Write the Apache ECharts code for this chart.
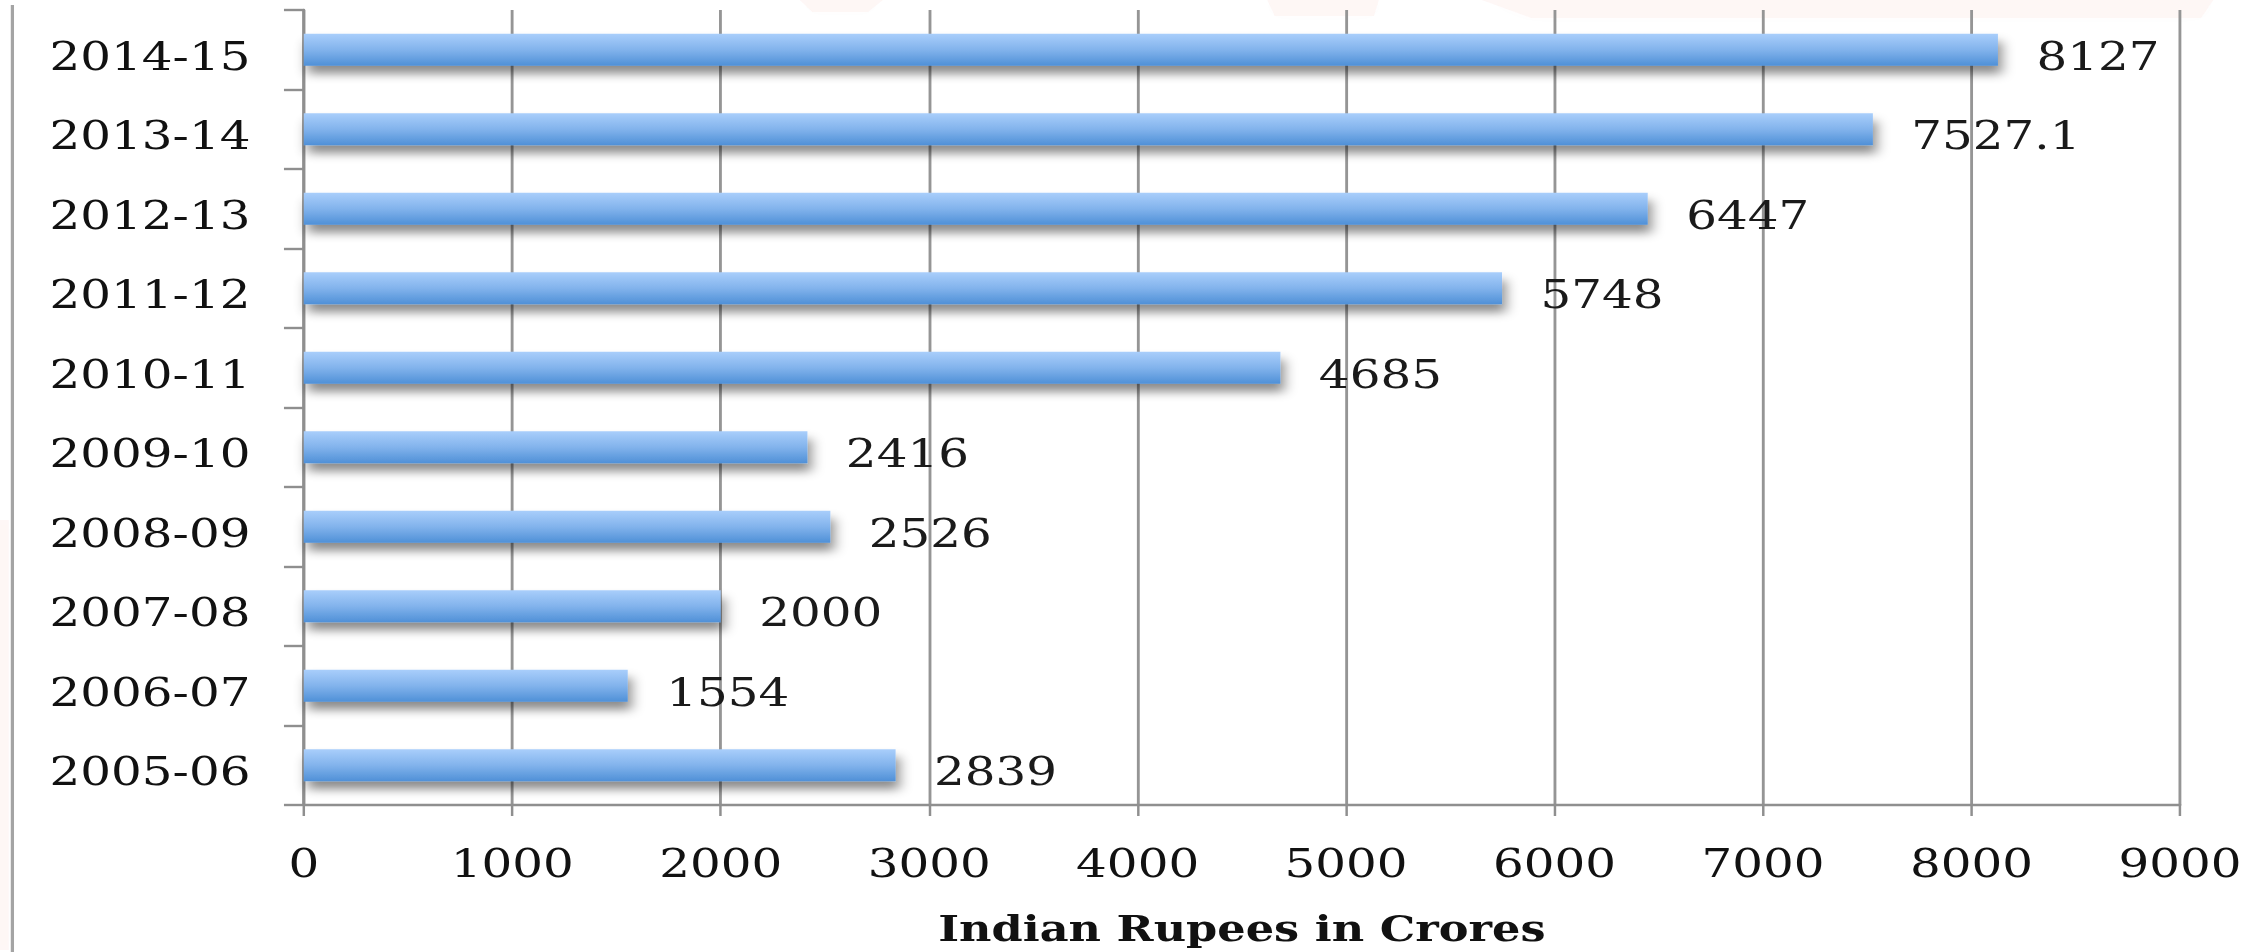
<!DOCTYPE html>
<html>
<head>
<meta charset="utf-8">
<title>Indian Rupees in Crores</title>
<script src="https://cdn.jsdelivr.net/npm/echarts@6/dist/echarts.min.js"></script>
<style>
  html, body { margin: 0; padding: 0; background: #ffffff; overflow: hidden; }
  #wrap { width: 2264px; height: 952px; overflow: hidden; position: relative; }
  /* the chart is drawn narrower and widened horizontally, giving the broad lettering */
  #chart { width: 1826px; height: 952px; transform: scaleX(1.24); transform-origin: 0 0; }
</style>
</head>
<body>
<div id="wrap"><div id="chart"></div></div>
<script>
// Financial years, bottom to top as drawn on the category axis
const years = ['2005-06', '2006-07', '2007-08', '2008-09', '2009-10',
               '2010-11', '2011-12', '2012-13', '2013-14', '2014-15'];
// Amount for each year (Indian Rupees in Crores)
const amounts = [2839, 1554, 2000, 2526, 2416, 4685, 5748, 6447, 7527.1, 8127];
// Value axis ticks
const valueTicks = [0, 1000, 2000, 3000, 4000, 5000, 6000, 7000, 8000, 9000];
const axisTitle = 'Indian Rupees in Crores';

const serif = '"DejaVu Serif", "Liberation Serif", serif';
const lineGray = '#959595';
const tint = 'rgba(235, 120, 95, 0.06)';
const tintStyle = { fill: tint, shadowColor: 'rgba(235, 120, 95, 0.10)', shadowBlur: 14 };

const chart = echarts.init(document.getElementById('chart'), null, { renderer: 'svg' });

chart.setOption({
  backgroundColor: '#ffffff',
  animation: false,
  grid: { left: 245, right: 68, top: 10, bottom: 142, containLabel: false },
  xAxis: {
    type: 'value',
    min: valueTicks[0],
    max: valueTicks[valueTicks.length - 1],
    interval: valueTicks[1] - valueTicks[0],
    name: axisTitle,
    nameLocation: 'middle',
    nameGap: 106,
    nameTextStyle: { fontFamily: serif, fontWeight: 'bold', fontSize: 36, color: '#111111' },
    axisLine: { show: true, lineStyle: { color: '#8f8f8f', width: 2.4 } },
    axisTick: { show: true, length: 11, lineStyle: { color: '#8f8f8f', width: 2 } },
    splitLine: { show: true, lineStyle: { color: lineGray, width: 2.3 } },
    axisLabel: {
      margin: 39, fontFamily: serif, fontSize: 39, color: '#111111',
      formatter: v => String(v)
    }
  },
  yAxis: {
    type: 'category',
    data: years,
    axisLine: { show: true, lineStyle: { color: '#8f8f8f', width: 2.4 } },
    axisTick: { show: true, length: 16, lineStyle: { color: '#8f8f8f', width: 2.4 } },
    splitLine: { show: false },
    axisLabel: {
      margin: 43,
      formatter: v => '{y|' + v + '}',
      rich: { y: { fontFamily: serif, fontSize: 39, color: '#111111', padding: [12, 0, 0, 0] } }
    }
  },
  series: [{
    type: 'bar',
    data: amounts,
    barWidth: 32,
    itemStyle: {
      color: new echarts.graphic.LinearGradient(0, 0, 0, 1, [
        { offset: 0, color: '#a9cefb' },
        { offset: 0.5, color: '#82b3ec' },
        { offset: 1, color: '#4f90d7' }
      ]),
      shadowColor: 'rgba(0, 0, 0, 0.45)',
      shadowBlur: 10,
      shadowOffsetX: 3,
      shadowOffsetY: 8
    },
    label: {
      show: true,
      position: 'right',
      distance: 31,
      offset: [0, 6],
      fontFamily: serif,
      fontSize: 39,
      color: '#1a1a1a',
      formatter: p => String(p.value)
    }
  }],
  graphic: [
    // page border at the far left
    { type: 'line', shape: { x1: 10, y1: 5, x2: 10, y2: 952 }, style: { stroke: '#a4a4a4', lineWidth: 2.6 } },
    // faint backdrop tint along the top and left edges
    { type: 'polygon', silent: true, z: -1, shape: { points: [[645, 0], [712, 0], [700, 12], [655, 12]] }, style: tintStyle },
    { type: 'polygon', silent: true, z: -1, shape: { points: [[1022, 0], [1112, 0], [1108, 16], [1028, 16]] }, style: tintStyle },
    { type: 'polygon', silent: true, z: -1, shape: { points: [[1195, 0], [1785, 0], [1775, 18], [1235, 18]] }, style: tintStyle },
    { type: 'rect', silent: true, z: -1, shape: { x: 0, y: 520, width: 7, height: 430 }, style: tintStyle }
  ]
});
</script>
</body>
</html>
